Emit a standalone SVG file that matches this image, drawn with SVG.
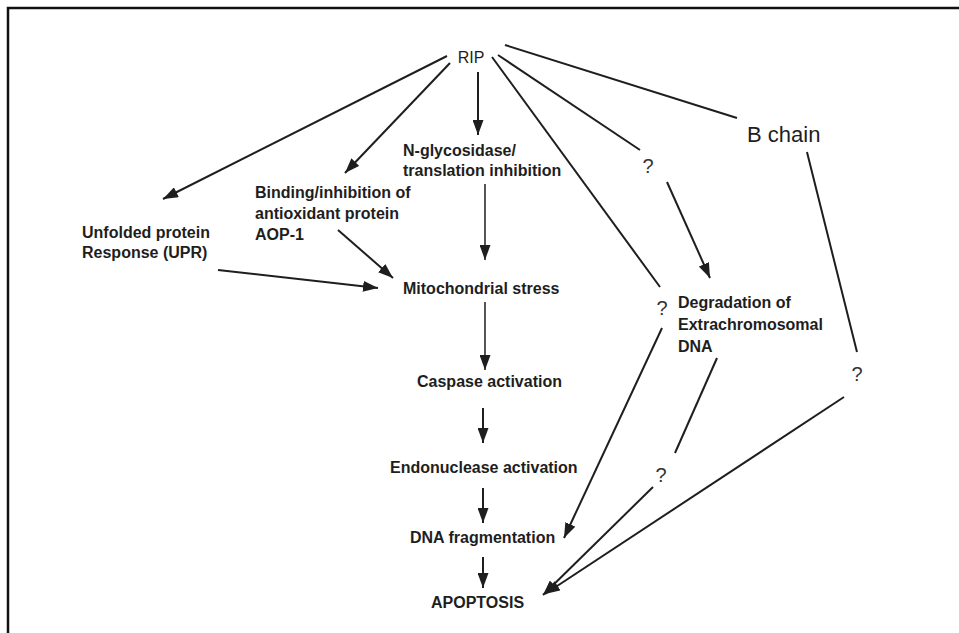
<svg xmlns="http://www.w3.org/2000/svg" width="959" height="633" viewBox="0 0 959 633">
<style>
text{font-family:"Liberation Sans",Arial,sans-serif;fill:#1e1e1e}
.b{font-weight:bold;font-size:16px}
.q{font-size:20px;text-anchor:middle;fill:#333}
.c line{stroke:#1e1e1e;stroke-width:2}
.c line.t{stroke-width:1.5}
</style>
<defs>
<marker id="ah" markerUnits="userSpaceOnUse" markerWidth="15" markerHeight="11" refX="15" refY="5.5" orient="auto">
<path d="M0,0 L15,5.5 L0,11 z" fill="#1e1e1e"/>
</marker>
</defs>
<rect width="959" height="633" fill="#fff"/>
<path d="M8,633 V8 H959" fill="none" stroke="#111" stroke-width="2.5"/>
<g class="c" id="connectors">
<line x1="447" y1="56" x2="163" y2="199" marker-end="url(#ah)"/>
<line x1="450" y1="63" x2="345" y2="173" marker-end="url(#ah)"/>
<line x1="478" y1="72" x2="478" y2="135" marker-end="url(#ah)"/>
<line x1="498" y1="55" x2="640" y2="150"/>
<line x1="667" y1="182" x2="710" y2="278" marker-end="url(#ah)"/>
<line x1="492" y1="57" x2="660" y2="287"/>
<line x1="505" y1="45" x2="737" y2="118"/>
<line x1="807" y1="152" x2="857" y2="352"/>
<line class="t" x1="485" y1="184" x2="485" y2="260" marker-end="url(#ah)"/>
<line x1="338" y1="230" x2="393" y2="278" marker-end="url(#ah)"/>
<line x1="218" y1="270" x2="378" y2="288" marker-end="url(#ah)"/>
<line class="t" x1="485" y1="302" x2="485" y2="370" marker-end="url(#ah)"/>
<line x1="483" y1="408" x2="483" y2="443" marker-end="url(#ah)"/>
<line x1="483" y1="488" x2="483" y2="523" marker-end="url(#ah)"/>
<line x1="483" y1="557" x2="483" y2="588" marker-end="url(#ah)"/>
<line x1="662" y1="328" x2="564" y2="538" marker-end="url(#ah)"/>
<line x1="717" y1="358" x2="675" y2="453"/>
<line x1="653" y1="487" x2="543" y2="595" marker-end="url(#ah)"/>
<line x1="844" y1="397" x2="545" y2="594" marker-end="url(#ah)"/>
</g>
<g id="rip"><text x="471" y="63" font-size="16" text-anchor="middle">RIP</text></g>
<g id="bchain"><text x="747" y="142" font-size="22">B chain</text></g>
<g id="nglyco"><text class="b" x="403" y="156">N-glycosidase/</text><text class="b" x="403" y="176">translation inhibition</text></g>
<g id="binding"><text class="b" x="255" y="198">Binding/inhibition of</text><text class="b" x="255" y="219">antioxidant protein</text><text class="b" x="255" y="240">AOP-1</text></g>
<g id="upr"><text class="b" x="82" y="238">Unfolded protein</text><text class="b" x="82" y="258">Response (UPR)</text></g>
<g id="mito"><text class="b" x="403" y="294">Mitochondrial stress</text></g>
<g id="caspase"><text class="b" x="417" y="387">Caspase activation</text></g>
<g id="endo"><text class="b" x="390" y="473">Endonuclease activation</text></g>
<g id="dnafrag"><text class="b" x="410" y="543">DNA fragmentation</text></g>
<g id="apoptosis"><text class="b" x="431" y="608">APOPTOSIS</text></g>
<g id="degradation"><text class="b" x="678" y="308">Degradation of</text><text class="b" x="678" y="330">Extrachromosomal</text><text class="b" x="678" y="352">DNA</text></g>
<g id="q1"><text class="q" x="648" y="173">?</text></g>
<g id="q2"><text class="q" x="662" y="315">?</text></g>
<g id="q3"><text class="q" x="857" y="381">?</text></g>
<g id="q4"><text class="q" x="661" y="482">?</text></g>
</svg>
